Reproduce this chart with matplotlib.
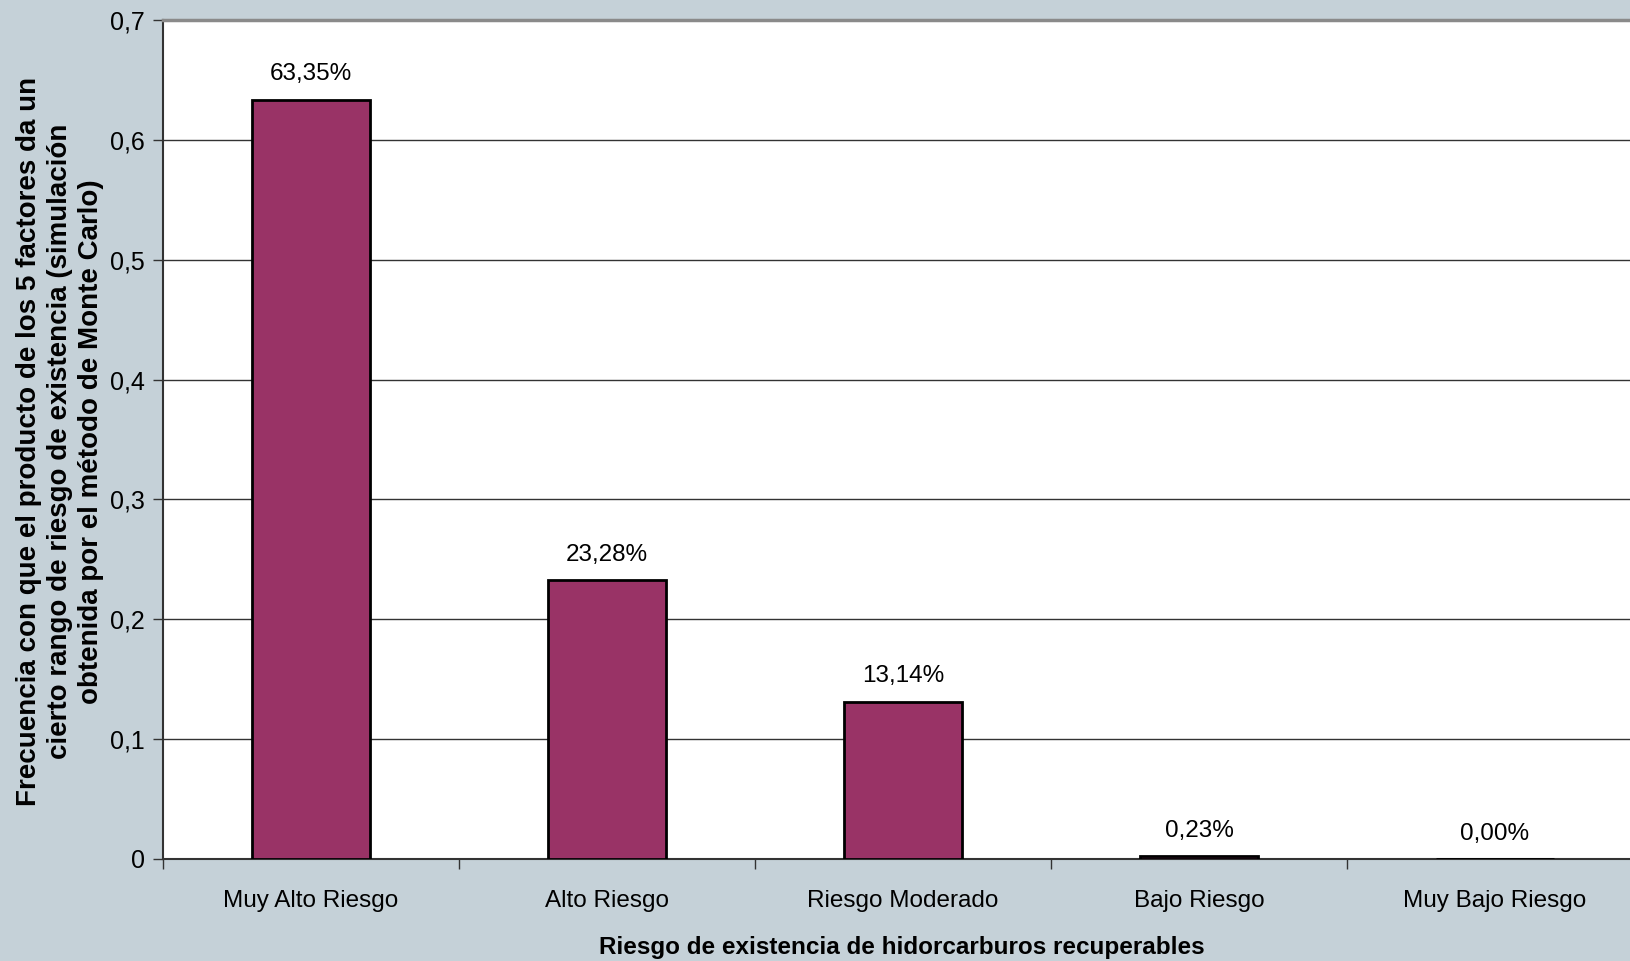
import matplotlib.pyplot as plt
import numpy as np

categorias = ['Muy Alto Riesgo', 'Alto Riesgo', 'Riesgo Moderado', 'Bajo Riesgo', 'Muy Bajo Riesgo']
frecuencias = [0.6335, 0.2328, 0.1314, 0.0023, 0.0]
etiquetas = ['63,35%', '23,28%', '13,14%', '0,23%', '0,00%']
yticks = [0, 0.1, 0.2, 0.3, 0.4, 0.5, 0.6, 0.7]
ytick_labels = ['0', '0,1', '0,2', '0,3', '0,4', '0,5', '0,6', '0,7']

plt.rcParams['font.family'] = ['Liberation Sans', 'DejaVu Sans']

W, H = 1630, 961
fig = plt.figure(figsize=(W / 100, H / 100), dpi=100)
fig.patch.set_facecolor('#C5D1D8')

# plot area: left 163px, top 20px, bottom 859px, runs off the right edge
ax = fig.add_axes([163 / W, 1 - 859 / H, (W - 163) / W, (859 - 20) / H])
ax.set_facecolor('white')

x = np.arange(len(categorias))
ax.bar(x, frecuencias, width=0.40, color='#993366', edgecolor='black', linewidth=2, zorder=3)

for xi, v, t in zip(x, frecuencias, etiquetas):
    ax.text(xi, v + 0.012, t, ha='center', va='bottom', fontsize=17.5)

ax.set_xlim(-0.5, 4.5 - 13 / 296)
ax.set_ylim(0, 0.7)
ax.set_yticks(yticks)
ax.set_yticklabels(ytick_labels, fontsize=18)
ax.yaxis.grid(True, color='#333333', linewidth=1, zorder=0)

ax.set_xticks(x)
ax.set_xticklabels(categorias, fontsize=17.5)
ax.set_xticks(np.arange(-0.5, 4.5, 1), minor=True)
ax.tick_params(axis='x', which='major', length=0, pad=22)
ax.tick_params(axis='x', which='minor', length=7, width=1, color='#333333')
ax.tick_params(axis='y', length=7, width=1, color='#333333', pad=6)

for s in ['left', 'bottom']:
    ax.spines[s].set_color('#333333')
    ax.spines[s].set_linewidth(1.5)
ax.spines['top'].set_color('#8a8a8a')
ax.spines['top'].set_linewidth(2.5)
ax.spines['right'].set_visible(False)

ax.set_xlabel('Riesgo de existencia de hidorcarburos recuperables', fontsize=17.5,
              fontweight='bold')
ax.xaxis.set_label_coords((902 - 163) / (W - 163), -(936 - 859) / (859 - 20))
ax.set_ylabel('Frecuencia con que el producto de los 5 factores da un\n'
              'cierto rango de riesgo de existencia (simulación\n'
              'obtenida por el método de Monte Carlo)',
              fontsize=20, fontweight='bold', linespacing=1.24)
ax.yaxis.set_label_coords(-(163 - 104) / (W - 163), 0.5 - (442 - 440) / (859 - 20))

fig.savefig('out.png', dpi=100, facecolor=fig.get_facecolor())
